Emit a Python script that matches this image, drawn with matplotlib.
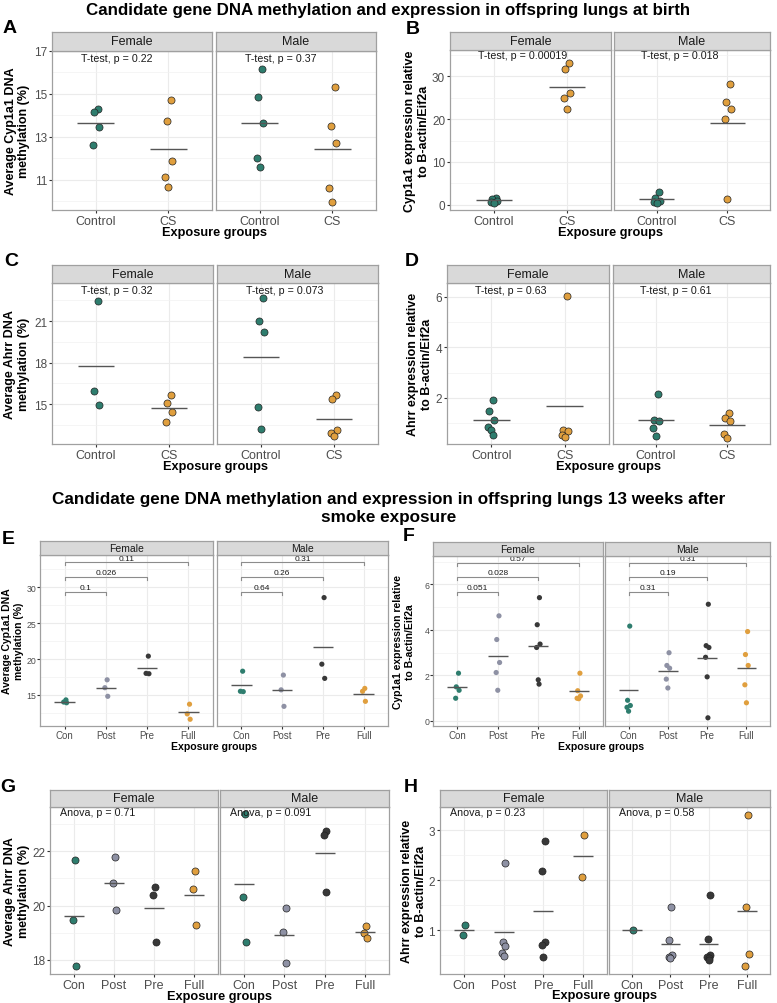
import numpy as np
import matplotlib
matplotlib.use('Agg')
import matplotlib.pyplot as plt
from matplotlib.ticker import AutoMinorLocator
import matplotlib.transforms as mtrans

plt.rcParams['font.family'] = ['Liberation Sans', 'DejaVu Sans']

W, H = 777, 1004

# ---- data ----
birth_groups = ['Control', 'CS']
week_groups = ['Con', 'Post', 'Pre', 'Full']
sexes = ['Female', 'Male']

# A: Cyp1a1 DNA methylation at birth (%)
a_female = [[14.3, 14.15, 13.45, 12.6], [14.7, 13.72, 11.87, 11.14, 10.67]]
a_male = [[16.17, 14.84, 13.62, 12.03, 11.61], [15.3, 13.48, 12.69, 10.64, 9.97]]
a_pvals = ['T-test, p = 0.22', 'T-test, p = 0.37']

# B: Cyp1a1 expression at birth
b_female = [[1.7, 1.3, 1.0, 0.6, 0.5], [33.0, 31.6, 26.1, 24.8, 22.3]]
b_male = [[2.96, 1.56, 0.94, 0.7, 0.5], [28.06, 24.0, 22.4, 19.9, 1.32]]
b_pvals = ['T-test, p = 0.00019', 'T-test, p = 0.018']

# C: Ahrr DNA methylation at birth (%)
c_female = [[22.46, 15.96, 14.93], [15.65, 15.07, 14.4, 13.71]]
c_male = [[22.65, 21.0, 20.25, 14.83, 13.18], [15.67, 15.34, 13.1, 12.91, 12.7]]
c_pvals = ['T-test, p = 0.32', 'T-test, p = 0.073']

# D: Ahrr expression at birth
d_female = [[1.91, 1.49, 1.14, 0.87, 0.74, 0.54], [6.02, 0.75, 0.7, 0.55, 0.45]]
d_male = [[2.15, 1.14, 1.09, 0.81, 0.49], [1.41, 1.22, 1.08, 0.59, 0.42]]
d_pvals = ['T-test, p = 0.63', 'T-test, p = 0.61']

# E: Cyp1a1 DNA methylation, 13 weeks (%)
e_female = [[14.3, 14.0, 13.9], [17.1, 16.0, 14.8], [20.4, 18.0, 17.95], [13.7, 12.35, 11.6]]
e_male = [[18.3, 15.5, 15.45], [17.76, 15.7, 13.4], [28.56, 19.28, 17.3], [15.9, 15.5, 14.1]]
e_brackets = [['0.1', '0.026', '0.11'], ['0.64', '0.26', '0.31']]

# F: Cyp1a1 expression, 13 weeks
f_female = [[2.1, 1.5, 1.35, 1.0], [4.62, 3.58, 2.57, 2.13, 1.35],
            [5.42, 4.23, 3.38, 3.23, 1.81, 1.62], [2.1, 1.33, 1.1, 1.0, 0.98]]
f_male = [[4.17, 0.91, 0.68, 0.6, 0.43], [3.0, 2.44, 2.32, 1.84, 1.45],
          [5.13, 3.31, 3.23, 2.8, 1.94, 0.14], [3.93, 2.92, 2.44, 1.59, 0.8]]
f_brackets = [['0.051', '0.028', '0.57'], ['0.31', '0.19', '0.31']]

# G: Ahrr DNA methylation, 13 weeks (%)
g_female = [[21.66, 19.48, 17.76], [21.8, 20.83, 19.82], [20.67, 20.4, 18.67], [21.29, 20.6, 19.29]]
g_male = [[23.37, 20.33, 18.65], [19.9, 19.02, 17.88], [22.76, 22.6, 20.49], [19.26, 18.98, 18.8]]
g_pvals = ['Anova, p = 0.71', 'Anova, p = 0.091']

# H: Ahrr expression, 13 weeks
h_female = [[1.11, 0.9], [2.35, 0.76, 0.69, 0.55, 0.48], [2.78, 2.18, 0.76, 0.71, 0.47], [2.91, 2.06]]
h_male = [[1.0], [1.47, 0.8, 0.5, 0.46, 0.44], [1.7, 0.83, 0.5, 0.47, 0.44, 0.4], [3.3, 1.47, 0.52, 0.28]]
h_pvals = ['Anova, p = 0.23', 'Anova, p = 0.58']

birth_colors = ['#2E7D6E', '#E09F3E']
week_colors = ['#2E7D6E', '#8E91A4', '#383838', '#E09F3E']

JITTER = [0.03, -0.025, 0.045, -0.04, 0.0, 0.02, -0.01]

BIG = dict(strip=9, xtick=9, ytick=8.5, xlab=9.2, ylab=9, ptext=7.7, dot=26, tick=2.5, pad=1.0)
SMALL = dict(strip=7.5, xtick=7, ytick=6.3, xlab=7.6, ylab=7.5, ptext=6, dot=14, tick=2.0, pad=0.6)

fig = plt.figure(figsize=(W / 100, H / 100), dpi=100)


def px_axes(x0, y0, x1, y1):
    return fig.add_axes([x0 / W, 1 - y1 / H, (x1 - x0) / W, (y1 - y0) / H])


def facet(letter, geo, groups, colors, data, ylim, yticks, ylabel,
          pvals=None, brackets=None, st=BIG):
    cols, (s0, s1), bottom = geo['cols'], geo['strip'], geo['bottom']
    n = len(groups)
    allv = [v for sex in data for g in sex for v in g]
    vmax, span = max(allv), max(allv) - min(allv)
    for k, (x0, x1) in enumerate(cols):
        ax = px_axes(x0, s1, x1, bottom)
        ax.set_xlim(0.4, n + 0.6)
        ax.set_ylim(ylim)
        ax.set_yticks(yticks)
        ax.yaxis.set_minor_locator(AutoMinorLocator(2))
        ax.set_xticks(range(1, n + 1))
        ax.set_xticklabels(groups)
        ax.grid(which='major', color='#EBEBEB', lw=0.8)
        ax.grid(which='minor', axis='y', color='#F2F2F2', lw=0.5)
        ax.set_axisbelow(True)
        ax.tick_params(which='minor', left=False, bottom=False)
        ax.tick_params(axis='x', labelsize=st['xtick'], colors='#333333',
                       labelcolor='#4D4D4D', length=st['tick'], pad=st['pad'])
        ax.tick_params(axis='y', labelsize=st['ytick'], colors='#333333',
                       labelcolor='#4D4D4D', length=st['tick'], pad=st['pad'])
        if k == 1:
            ax.tick_params(axis='y', left=False, labelleft=False)
        for sp in ax.spines.values():
            sp.set_color('#A0A0A0')
            sp.set_linewidth(0.9)

        for i, vals in enumerate(data[k]):
            xs = [i + 1 + JITTER[j % len(JITTER)] for j in range(len(vals))]
            ax.scatter(xs, vals, s=st['dot'], color=colors[i],
                       edgecolor='#222222' if st is BIG else 'none',
                       linewidth=0.5, zorder=3)
            ax.hlines(np.mean(vals), i + 0.75, i + 1.25, color='#555555',
                      lw=1.0, zorder=4)

        if pvals is not None:
            tr = mtrans.blended_transform_factory(ax.transData, ax.transAxes)
            ax.text(geo['px'], geo['py'], pvals[k], transform=tr,
                    fontsize=st['ptext'], ha='left', va='center', color='#1A1A1A')
        if brackets is not None:
            for j, lab in enumerate(brackets[k]):
                y = vmax + span * (0.05 + 0.12 * j)
                tip = span * 0.025
                ax.plot([1, 1, j + 2, j + 2], [y - tip, y, y, y - tip],
                        color='#8C8C8C', lw=0.8, zorder=2)
                ax.text((1 + j + 2) / 2, y + span * 0.006, lab, fontsize=st['ptext'],
                        ha='center', va='bottom', color='#1A1A1A')

        sax = px_axes(x0, s0, x1, s1)
        sax.set_facecolor('#D9D9D9')
        sax.set_xticks([])
        sax.set_yticks([])
        for sp in sax.spines.values():
            sp.set_color('#A0A0A0')
            sp.set_linewidth(0.9)
        sax.text(0.5, 0.5, sexes[k], transform=sax.transAxes, ha='center',
                 va='center', fontsize=st['strip'], color='#1A1A1A')

    lx, ly = geo['letter']
    fig.text(lx / W, 1 - ly / H, letter, fontsize=14, fontweight='bold',
             ha='center', va='center')
    fig.text(geo['ylab_x'] / W, 1 - (s1 + bottom) / 2 / H, ylabel, rotation=90,
             fontsize=st['ylab'], fontweight='bold', ha='center', va='center',
             linespacing=1.15)
    fig.text((cols[0][0] + cols[1][1]) / 2 / W, 1 - geo['xlab_y'] / H,
             'Exposure groups', fontsize=st['xlab'], fontweight='bold',
             ha='center', va='center')


fig.text(0.5, 1 - 10 / H,
         'Candidate gene DNA methylation and expression in offspring lungs at birth',
         fontsize=12.2, fontweight='bold', ha='center', va='center')
fig.text(0.5, 1 - 508.5 / H,
         'Candidate gene DNA methylation and expression in offspring lungs 13 weeks after\nsmoke exposure',
         fontsize=12.3, fontweight='bold', ha='center', va='center', linespacing=1.3)

facet('A', dict(cols=[(52, 212), (216, 376)], strip=(33, 51.7), bottom=211,
                letter=(10, 28.5), ylab_x=17.5, xlab_y=233, px=0.8, py=0.954),
      birth_groups, birth_colors, [a_female, a_male], (9.6, 17.0), [11, 13, 15, 17],
      'Average Cyp1a1 DNA\nmethylation (%)', pvals=a_pvals)
facet('B', dict(cols=[(450, 611), (614, 770)], strip=(33, 51), bottom=211,
                letter=(413, 29), ylab_x=417, xlab_y=233, px=0.78, py=0.97),
      birth_groups, birth_colors, [b_female, b_male], (-1.2, 36.1), [0, 10, 20, 30],
      'Cyp1a1 expression relative\nto B-actin/Eif2a', pvals=b_pvals)
facet('C', dict(cols=[(52, 213), (217, 378)], strip=(266, 284), bottom=445,
                letter=(11, 262), ylab_x=17, xlab_y=467, px=0.8, py=0.958),
      birth_groups, birth_colors, [c_female, c_male], (12.12, 23.76), [15, 18, 21],
      'Average Ahrr DNA\nmethylation (%)', pvals=c_pvals)
facet('D', dict(cols=[(447, 609), (613, 770)], strip=(266, 284), bottom=445,
                letter=(412, 262), ylab_x=420, xlab_y=467, px=0.78, py=0.958),
      birth_groups, birth_colors, [d_female, d_male], (0.18, 6.54), [2, 4, 6],
      'Ahrr expression relative\nto B-actin/Eif2a', pvals=d_pvals)
facet('E', dict(cols=[(40, 213), (217, 388)], strip=(542, 556), bottom=727,
                letter=(8, 540), ylab_x=13, xlab_y=747),
      week_groups, week_colors, [e_female, e_male], (10.66, 34.5), [15, 20, 25, 30],
      'Average Cyp1a1 DNA\nmethylation (%)', brackets=e_brackets, st=SMALL)
facet('F', dict(cols=[(433, 603), (605, 770)], strip=(543, 557), bottom=727,
                letter=(409, 537), ylab_x=404, xlab_y=747),
      week_groups, week_colors, [f_female, f_male], (-0.22, 7.25), [0, 2, 4, 6],
      'Cyp1a1 expression relative\nto B-actin/Eif2a', brackets=f_brackets, st=SMALL)
facet('G', dict(cols=[(50, 218), (220, 389)], strip=(791, 808), bottom=975,
                letter=(8, 788), ylab_x=17, xlab_y=996.7, px=0.65, py=0.972),
      week_groups, week_colors, [g_female, g_male], (17.48, 23.63), [18, 20, 22],
      'Average Ahrr DNA\nmethylation (%)', pvals=g_pvals)
facet('H', dict(cols=[(440, 607), (609, 770)], strip=(791, 808), bottom=975,
                letter=(411, 788), ylab_x=414, xlab_y=996, px=0.65, py=0.972),
      week_groups, week_colors, [h_female, h_male], (0.13, 3.46), [1, 2, 3],
      'Ahrr expression relative\nto B-actin/Eif2a', pvals=h_pvals)

fig.savefig('out.png', dpi=100)
